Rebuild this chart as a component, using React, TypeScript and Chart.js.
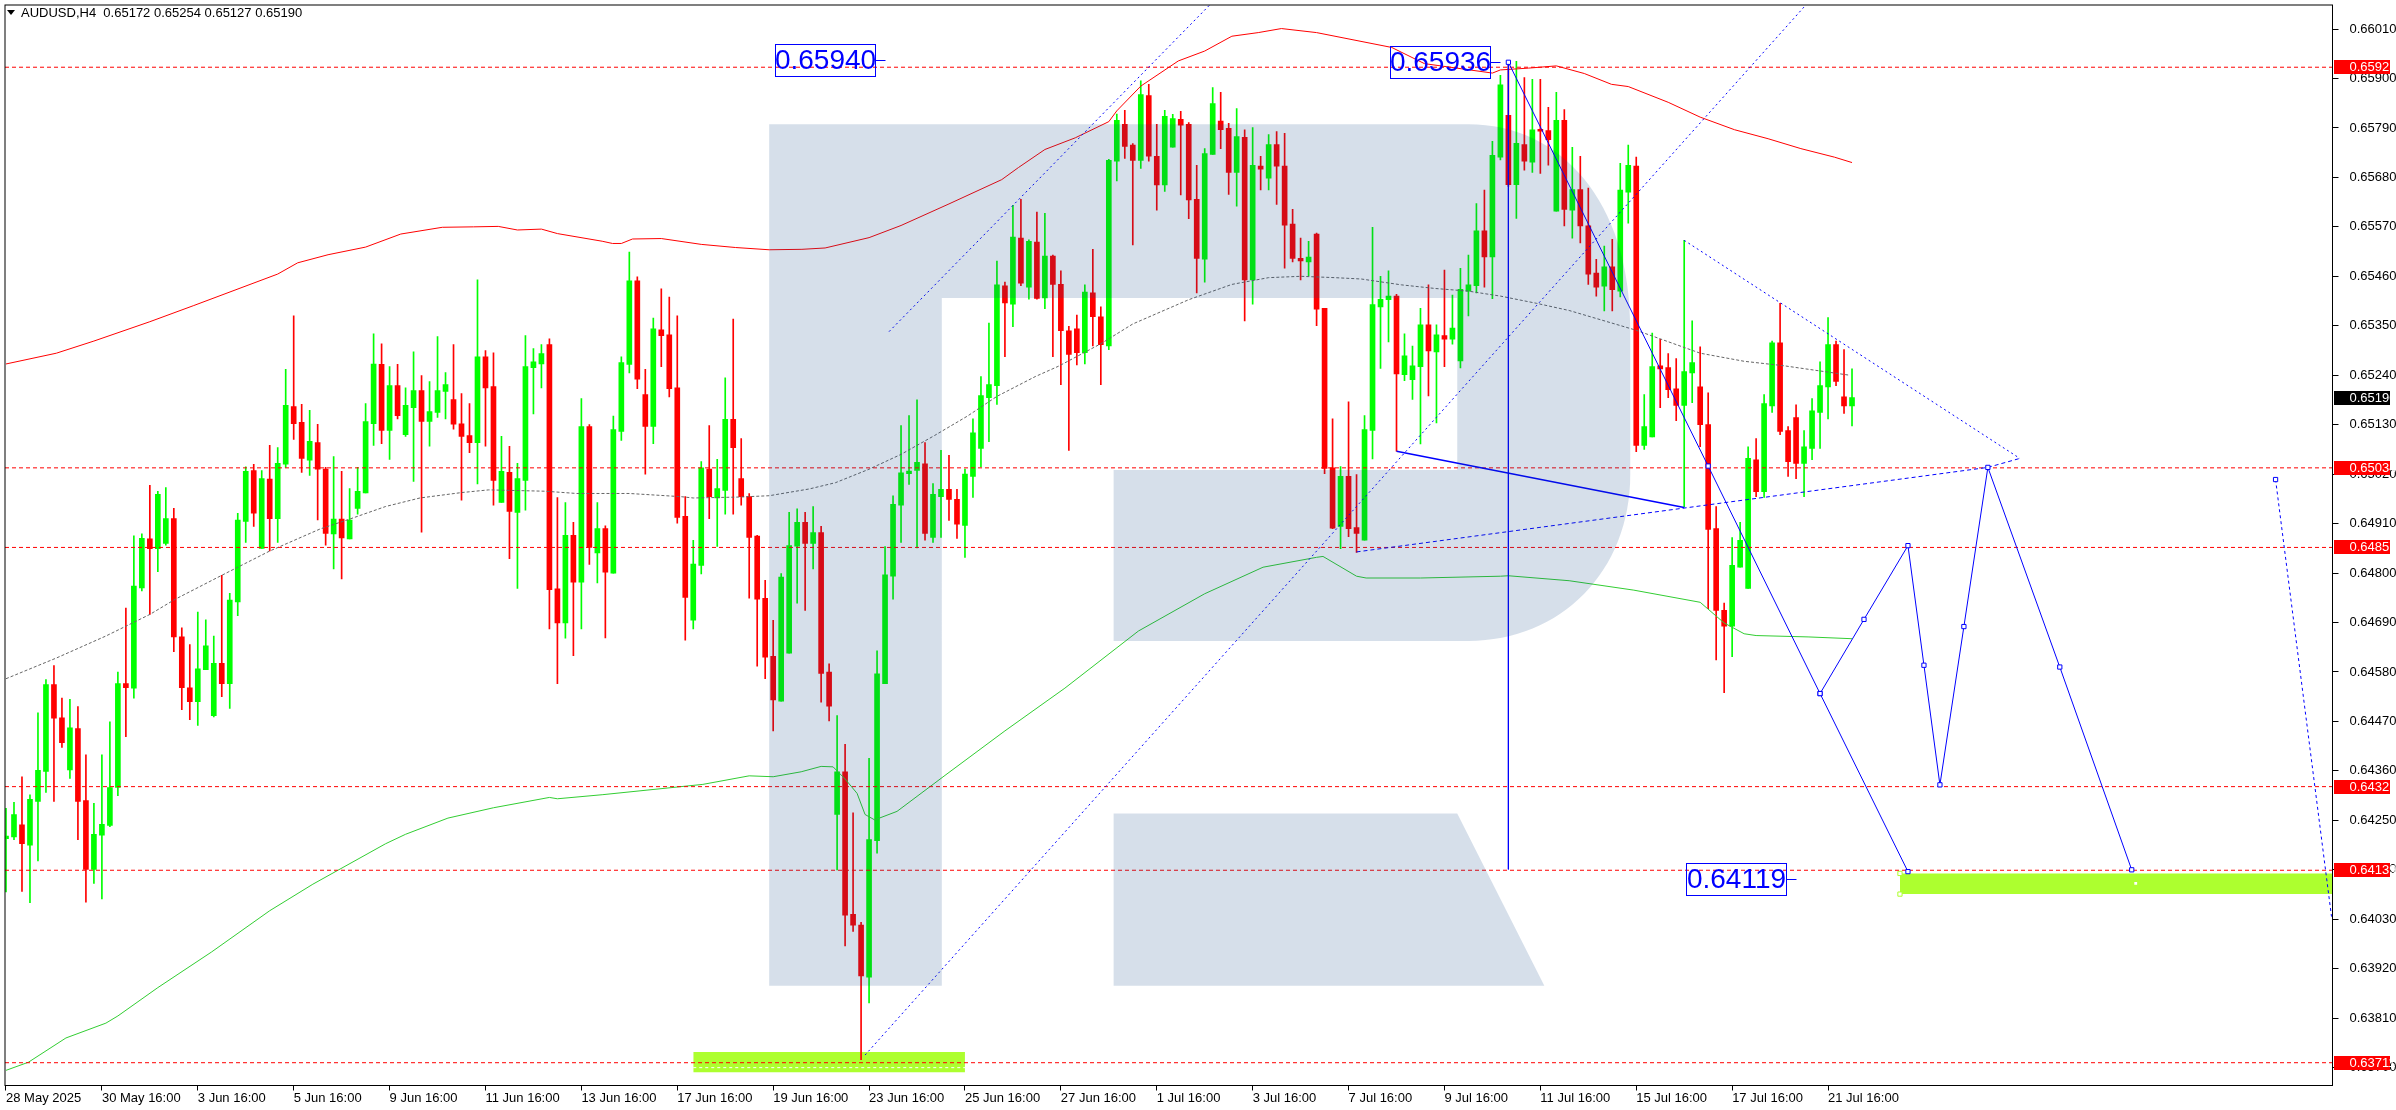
import React, { useEffect, useRef } from "react";
import { Chart, registerables } from "chart.js";

Chart.register(...registerables);

// Prices are held in points (1 point = 0.00001)
const opens = [
  64209,64213,64240,64195,64292,64359,64552,64478,64362,64454,
  64294,64141,64217,64239,64323,64554,64544,64767,64876,64854,
  64866,64921,64658,64545,64514,64585,64483,64599,64554,64736,
  64915,65028,64855,65009,64921,65042,65170,65135,65051,65090,
  65031,64887,64920,64876,64944,64978,65132,65264,65117,65217,
  65108,65168,65206,65137,65157,65204,65186,65132,65106,65090,
  65281,65215,64957,65024,64935,65006,65257,65265,65308,64765,
  64689,64884,64780,65126,64845,64899,64800,65115,65264,65450,
  65197,65126,65341,65330,65212,64926,64695,64817,65031,64967,
  64984,65142,65010,64970,64882,64744,64615,64515,64622,64860,
  64913,64866,64890,64580,64263,64358,64041,64017,63901,64205,
  64554,64793,64951,65021,65028,65043,64879,64970,64986,64964,
  64906,65015,65077,65190,65217,65439,65398,65545,65436,65536,
  65412,65505,65442,65339,65343,65290,65423,65370,65305,65716,
  65798,65752,65718,65862,65727,65663,65747,65809,65798,65631,
  65498,65731,65805,65789,65691,65769,65452,65705,65678,65753,
  65705,65576,65500,65492,65554,65389,65034,64904,65015,64901,
  64873,65117,65392,65408,65416,65241,65230,65259,65352,65292,
  65328,65320,65272,65427,65439,65561,65503,65725,65818,65664,
  65753,65714,65787,65784,65605,65807,65607,65653,65572,65467,
  65438,65481,65427,65647,65705,65084,65103,65261,65257,65210,
  65173,65245,65214,65130,64899,64717,64682,64813,64766,65052,
  64981,65172,65312,65117,65146,65044,65077,65157,65214,65308,65192,65172,
];
const highs = [
  64277,64290,64347,64307,64489,64563,64594,64522,64519,64503,
  64396,64288,64396,64469,64580,64722,64883,64887,64995,64982,
  64990,64944,64678,64641,64713,64696,64660,64795,64755,64933,
  65036,65042,65028,65084,65079,65253,65372,65175,65162,65131,
  65035,65059,65026,64988,65035,65177,65332,65310,65259,65264,
  65212,65292,65239,65226,65326,65246,65308,65199,65177,65452,
  65295,65290,65104,65082,65044,65328,65299,65308,65321,64968,
  64957,64913,65188,65130,64957,64905,65149,65281,65514,65459,
  65253,65367,65432,65414,65372,64970,64873,65048,65128,65053,
  65234,65365,65099,64977,64884,64784,64695,64799,64935,64943,
  64935,64948,64904,64598,64483,64419,64267,64023,64388,64627,
  64859,64972,65128,65150,65185,65090,64999,65073,65062,64986,
  65031,65143,65237,65356,65494,65447,65618,65631,65541,65603,
  65600,65507,65472,65349,65374,65441,65520,65392,65720,65821,
  65829,65755,65895,65887,65798,65829,65820,65827,65802,65707,
  65744,65880,65869,65800,65833,65786,65791,65727,65775,65782,
  65778,65609,65545,65538,65556,65389,65143,65037,65181,65019,
  65150,65569,65460,65472,65420,65332,65305,65389,65441,65352,
  65474,65418,65478,65507,65622,65652,65760,65907,65936,65938,
  65902,65898,65898,65836,65869,65831,65747,65727,65656,65498,
  65527,65542,65711,65752,65725,65197,65334,65320,65288,65277,
  65540,65361,65303,65201,64948,64733,64879,64913,65081,65099,
  65197,65316,65400,65126,65174,65117,65188,65270,65368,65316,65297,65254,
];
const lows = [
  64091,64207,64092,64067,64160,64312,64292,64412,64343,64207,
  64068,64110,64075,64236,64305,64436,64522,64760,64708,64803,
  64862,64625,64496,64474,64461,64585,64480,64525,64499,64705,
  64868,64904,64855,64849,64868,65035,65097,65024,65017,64918,
  64862,64809,64787,64876,64931,64978,65084,65088,65053,65143,
  65104,65004,64891,65082,65146,65143,65120,64962,65068,64998,
  65082,64951,64957,64832,64766,64940,65154,65212,64676,64554,
  64655,64616,64676,64819,64778,64656,64800,65095,65245,65210,
  65020,65088,65259,65192,64911,64651,64676,64798,64921,64859,
  64931,64931,64951,64744,64593,64565,64449,64515,64622,64733,
  64717,64809,64513,64471,64140,63971,64003,63718,63844,64177,
  64554,64742,64868,64997,64856,64873,64868,64879,64917,64877,
  64835,64968,65036,65092,65175,65281,65348,65439,65409,65409,
  65388,65281,65219,65073,65263,65265,65305,65219,65297,65672,
  65722,65530,65700,65716,65607,65649,65747,65641,65588,65423,
  65447,65731,65744,65642,65616,65361,65398,65652,65652,65620,
  65478,65492,65452,65461,65350,65021,64899,64854,64881,64846,
  64873,65054,65255,65314,65071,65228,65186,65087,65194,65134,
  65259,65309,65256,65372,65423,65436,65410,65719,65660,65589,
  65696,65691,65689,65707,65605,65572,65545,65534,65442,65416,
  65383,65383,65414,65578,65070,65075,65103,65168,65190,65139,
  64947,65179,65081,64721,64607,64534,64614,64813,64766,64970,
  64968,65157,65108,65015,65010,64970,65052,65077,65143,65217,65155,65127,
];
const closes = [
  64215,64263,64198,64297,64361,64552,64477,64423,64456,64292,
  64141,64219,64241,64323,64554,64545,64771,64877,64854,64975,
  64921,64658,64545,64514,64587,64638,64599,64554,64740,64918,
  65026,64933,65010,64921,65044,65173,65132,65055,65093,65031,
  64888,64920,64878,64918,64982,65137,65265,65117,65217,65150,
  65173,65206,65137,65159,65206,65219,65131,65104,65090,65281,
  65212,65006,65026,64937,65010,65259,65270,65288,64763,64689,
  64884,64780,65126,64857,64899,64802,65119,65268,65450,65231,
  65126,65343,65328,65210,64924,64746,64820,65034,64970,64988,
  65142,65079,64970,64879,64742,64613,64518,64791,64861,64913,
  64866,64890,64577,64504,64358,64039,64017,63904,64207,64576,
  64796,64953,65023,65027,65046,64888,64975,64986,64964,64909,
  65020,65112,65195,65219,65441,65401,65547,65445,65538,65411,
  65505,65442,65339,65286,65290,65425,65370,65308,65718,65807,
  65749,65718,65864,65727,65663,65816,65811,65796,65630,65500,
  65733,65844,65786,65691,65771,65452,65707,65698,65753,65705,
  65574,65500,65494,65503,65387,65033,64900,65015,64899,64888,
  65119,65397,65409,65416,65243,65283,65261,65352,65294,65330,
  65320,65345,65431,65441,65561,65503,65729,65886,65664,65756,
  65716,65786,65783,65764,65807,65609,65653,65572,65465,65436,
  65481,65430,65652,65707,65084,65126,65259,65254,65208,65173,
  65248,65268,65130,64897,64717,64682,64817,64873,65055,64981,
  65177,65312,65115,65048,65044,65081,65161,65217,65308,65226,65172,65190,
];

const dateLabels = ["28 May 2025","30 May 16:00","3 Jun 16:00","5 Jun 16:00","9 Jun 16:00","11 Jun 16:00","13 Jun 16:00","17 Jun 16:00","19 Jun 16:00","23 Jun 16:00","25 Jun 16:00","27 Jun 16:00","1 Jul 16:00","3 Jul 16:00","7 Jul 16:00","9 Jul 16:00","11 Jul 16:00","15 Jul 16:00","17 Jul 16:00","21 Jul 16:00"];
const dateBars = [0,12,24,36,48,60,72,84,96,108,120,132,144,156,168,180,192,204,216,228];
const priceTicks = [0.6601,0.659,0.6579,0.6568,0.6557,0.6546,0.6535,0.6524,0.6513,0.6502,0.6491,0.648,0.6469,0.6458,0.6447,0.6436,0.6425,0.6414,0.6403,0.6392,0.6381,0.637];

const levelPrices = [65925,65034,64857,64325,64139,63711];
const levelLabels = ["0.65925","0.65034","0.64857","0.64325","0.64139","0.63711"];

const upperBars = [0,6.3,11,18,23.5,34,36.5,40.3,45,49.4,54.6,58.5,61.6,64,67,69,74.6,75.9,77,78.4,82,87,91.3,95.5,99.6,102.5,108,112,118,124.6,126.7,130,133.8,138,139,142,146.7,150,153.4,156.7,159.6,164,173.4,177.5,186,187,190.5,194,197.5,200.9,203,208,212,216.3,220.5,224.6,228.8,231];
const upperVals = [65265,65289,65316,65359,65395,65465,65490,65508,65525,65554,65569,65570,65571,65563,65565,65555,65538,65533,65533,65543,65544,65531,65524,65519,65520,65523,65546,65573,65621,65675,65702,65742,65768,65804,65828,65883,65939,65961,65994,66002,66011,66002,65969,65933,65912,65919,65923,65928,65911,65887,65882,65847,65814,65786,65766,65744,65725,65713];

const middleBars = [0,6.3,12.5,18,21.2,27,33,39.3,43,47.5,51.8,57,60.4,67.5,71.4,75,78,84.4,86,91.7,95.5,100.5,103.8,108,112,116.2,120.3,124,128.8,131.7,137,141,148,153.4,158,162,166.3,169.6,174.6,178.8,183,187,191.5,195.6,204,212,217.5,222.5,230.7];
const middleVals = [64565,64611,64660,64708,64742,64795,64849,64898,64920,64948,64967,64979,64985,64982,64977,64977,64977,64970,64967,64969,64972,64987,65001,65031,65064,65106,65149,65193,65237,65260,65310,65354,65408,65442,65457,65460,65457,65454,65441,65433,65427,65416,65400,65384,65340,65289,65271,65261,65240];

const lowerBars = [0,2.8,7.5,12.5,14,19,25.7,33,38.4,47.5,50,55.3,61,68,69,74.6,87.2,93,96,99.5,102,103.5,105,106.5,107.5,108.7,111.5,117.5,125,132.5,141.7,150,157.3,164,164.8,169,170.2,177,187,188,195.6,203.7,212,215,217.5,219,225.5,231];
const lowerVals = [63694,63712,63766,63799,63815,63878,63957,64049,64108,64198,64219,64255,64278,64301,64298,64307,64330,64349,64347,64358,64370,64369,64342,64310,64263,64251,64270,64350,64449,64544,64671,64754,64813,64835,64837,64793,64789,64789,64793,64794,64783,64762,64735,64689,64665,64661,64658,64654];

const channelA = { bars: [110.5, 150.6], vals: [65337, 66063] };
const channelB = { bars: [107.5, 225.2], vals: [63728, 66063] };
const dropBars = [188, 213, 227, 238];
const dropVals = [65936, 65038, 64532, 64136];
const stemBars = [188, 188];
const stemVals = [65936, 64141];
const forecastBars = [227, 232.5, 238, 240, 242, 245, 248, 257, 266];
const forecastVals = [64532, 64697, 64861, 64595, 64329, 64681, 65035, 64591, 64140];
const slantBars = [174, 210];
const slantVals = [65071, 64946];
const triLowBars = [169, 248, 252];
const triLowVals = [64847, 65035, 65055];
const triTopBars = [210, 252];
const triTopVals = [65540, 65055];
const farBars = [284, 291];
const farVals = [65008, 64036];

const zoneOne = { bars: [86, 120], top: 63735, bottom: 63690, mid: 63700 };
const zoneTwo = { bars: [237, 292], top: 64132, bottom: 64086 };

const callouts = [
  { text: "0.65940", price: 65940, bar: 110 },
  { text: "0.65936", price: 65936, bar: 187 },
  { text: "0.64119", price: 64119, bar: 224 },
];

const headerText = "AUDUSD,H4  0.65172 0.65254 0.65127 0.65190";
const lastPrice = 65190;

const pt = (bars: number[], vals: number[]) => bars.map((x, k) => ({ x, y: vals[k] / 1e5 }));

const BULL = "#00ff00";
const BEAR = "#ff0000";
const BLUE = "#0000ff";
const LIME = "#adff2f";
const FONT = "'Liberation Sans', sans-serif";

const line = (data: any[], extra: any) => ({
  type: "line",
  data,
  borderWidth: 1,
  pointRadius: 0,
  tension: 0,
  ...extra,
});

const overlay = {
  id: "overlay",
  afterDatasetsDraw(chart: any) {
    const { ctx, chartArea: a, scales } = chart;
    const X = (b: number) => scales.x.getPixelForValue(b);
    const Y = (p: number) => scales.y.getPixelForValue(p / 1e5);
    ctx.save();
    ctx.beginPath();
    ctx.rect(a.left, a.top, a.right - a.left, a.bottom - a.top);
    ctx.clip();
    ctx.fillStyle = "rgba(14,67,131,0.17)";
    ctx.beginPath();
    ctx.moveTo(X(95.5), Y(65798));
    ctx.lineTo(X(183), Y(65798));
    ctx.bezierCurveTo(X(194.6), Y(65798), X(203.25), Y(65625), X(203.25), Y(65346));
    ctx.lineTo(X(203.25), Y(65019));
    ctx.bezierCurveTo(X(203.25), Y(64804), X(194.6), Y(64649), X(183), Y(64649));
    ctx.lineTo(X(138.6), Y(64649));
    ctx.lineTo(X(138.6), Y(65029));
    ctx.lineTo(X(181.6), Y(65029));
    ctx.lineTo(X(181.6), Y(65412));
    ctx.lineTo(X(117.1), Y(65412));
    ctx.lineTo(X(117.1), Y(63882));
    ctx.lineTo(X(95.5), Y(63882));
    ctx.closePath();
    ctx.moveTo(X(138.6), Y(64265));
    ctx.lineTo(X(181.6), Y(64265));
    ctx.lineTo(X(192.5), Y(63882));
    ctx.lineTo(X(138.6), Y(63882));
    ctx.closePath();
    ctx.fill();

    // Price callouts
    ctx.strokeStyle = BLUE;
    ctx.fillStyle = BLUE;
    ctx.lineWidth = 1;
    ctx.font = `28px ${FONT}`;
    ctx.textAlign = "center";
    ctx.textBaseline = "middle";
    callouts.forEach((c) => {
      const px = Math.round(X(c.bar)) + 0.5;
      const py = Math.round(Y(c.price)) + 0.5;
      ctx.beginPath();
      ctx.moveTo(px - 10, py);
      ctx.lineTo(px, py);
      ctx.stroke();
      ctx.strokeRect(px - 110, py - 16, 100, 32);
      ctx.fillText(c.text, px - 60, py + 1);
    });
    ctx.restore();
  },
  afterDraw(chart: any) {
    const { ctx, chartArea: a, scales } = chart;
    const Y = (p: number) => Math.round(scales.y.getPixelForValue(p / 1e5));
    ctx.save();
    // Frame
    ctx.strokeStyle = "#000";
    ctx.lineWidth = 1;
    ctx.strokeRect(a.left, a.top, a.right - a.left, a.bottom - a.top);
    // Price tags
    ctx.font = `13px ${FONT}`;
    ctx.textAlign = "left";
    ctx.textBaseline = "middle";
    const tag = (bg: string, text: string, price: number) => {
      const py = Y(price);
      ctx.fillStyle = bg;
      ctx.fillRect(a.right + 1.5, py - 7, 56, 14);
      ctx.fillStyle = "#fff";
      ctx.fillText(text, a.right + 17, py + 0.5);
    };
    levelPrices.forEach((p, k) => tag(BEAR, levelLabels[k], p));
    tag("#000", (lastPrice / 1e5).toFixed(5), lastPrice);
    // Header
    ctx.fillStyle = "#000";
    ctx.beginPath();
    ctx.moveTo(7, 10);
    ctx.lineTo(15, 10);
    ctx.lineTo(11, 15);
    ctx.closePath();
    ctx.fill();
    ctx.fillText(headerText, 21, 13);
    ctx.restore();
  },
};

export default function App() {
  const ref = useRef<HTMLCanvasElement | null>(null);
  useEffect(() => {
    const canvas = ref.current;
    if (!canvas) return;
    const wicks = highs.map((h, i) => ({ x: i, y: [lows[i] / 1e5, h / 1e5] }));
    const bodies = opens.map((o, i) => ({
      x: i,
      y: [Math.min(o, closes[i]) / 1e5, Math.max(o, closes[i]) / 1e5],
    }));
    const colors = opens.map((o, i) => (closes[i] >= o ? BULL : BEAR));
    const zone = (z: any, order: number) =>
      line(pt(z.bars, [z.top, z.top]), {
        borderWidth: 0,
        borderColor: LIME,
        backgroundColor: LIME,
        fill: { value: z.bottom / 1e5 },
        order,
      });
    const handles = { pointStyle: "rect", pointRadius: 3, pointBackgroundColor: "#fff", pointBorderColor: BLUE, pointBorderWidth: 1 };
    const levels = levelPrices.map((p) =>
      line(pt([-1, 293], [p, p]), { borderColor: BEAR, borderDash: [4, 3], order: 5 })
    );
    const chart = new Chart(canvas, {
      type: "bar",
      data: {
        datasets: [
          zone(zoneOne, 20),
          line(pt(zoneOne.bars, [zoneOne.mid, zoneOne.mid]), { borderColor: "#fff", borderDash: [3, 3], order: 19 }),
          zone(zoneTwo, 20),
          line(pt([237, 237], [zoneTwo.top, zoneTwo.bottom]), {
            borderWidth: 0,
            pointStyle: "rect",
            pointRadius: 3,
            pointBackgroundColor: "#fff",
            pointBorderColor: LIME,
            pointBorderWidth: 1,
            showLine: false,
            order: 19,
          }),
          line(pt([266.5], [64110]), { pointStyle: "rect", pointRadius: 2, pointBackgroundColor: "#fff", pointBorderWidth: 0, showLine: false, order: 19 }),
          {
            data: wicks,
            backgroundColor: colors,
            barThickness: 1,
            grouped: false,
            borderWidth: 0,
            order: 12,
          },
          {
            data: bodies,
            backgroundColor: colors,
            barThickness: 5,
            grouped: false,
            borderWidth: 0,
            order: 11,
          },
          line(pt(upperBars, upperVals), { borderColor: BEAR, order: 8 }),
          line(pt(middleBars, middleVals), { borderColor: "#666666", borderDash: [3, 2], order: 8 }),
          line(pt(lowerBars, lowerVals), { borderColor: "#32cd32", order: 8 }),
          ...levels,
          line(pt(channelA.bars, channelA.vals), { borderColor: BLUE, borderDash: [2, 3], order: 3 }),
          line(pt(channelB.bars, channelB.vals), { borderColor: BLUE, borderDash: [2, 3], order: 3 }),
          line(pt(stemBars, stemVals), { borderColor: BLUE, order: 3 }),
          line(pt(slantBars, slantVals), { borderColor: BLUE, borderWidth: 1.5, order: 3 }),
          line(pt(triLowBars, triLowVals), { borderColor: BLUE, borderDash: [4, 3], order: 3 }),
          line(pt(triTopBars, triTopVals), { borderColor: BLUE, borderDash: [2, 3], order: 3 }),
          line(pt(dropBars, dropVals), { borderColor: BLUE, order: 2, ...handles }),
          line(pt(forecastBars, forecastVals), { borderColor: BLUE, order: 2, ...handles }),
          line(pt(farBars, farVals), { borderColor: BLUE, borderDash: [3, 3], order: 2, ...handles, pointRadius: [3, 0] }),
        ] as any,
      },
      options: {
        responsive: false,
        animation: false,
        devicePixelRatio: 1,
        layout: { padding: { left: 2.5, top: 2.5, right: 0, bottom: 0 } },
        plugins: { legend: { display: false }, tooltip: { enabled: false } },
        events: [],
        scales: {
          x: {
            type: "linear",
            min: -0.125,
            max: 291.125,
            offset: false,
            grid: { display: true, offset: false, drawOnChartArea: false, drawTicks: true, tickLength: 5, color: "#000" },
            border: { display: false },
            ticks: {
              autoSkip: false,
              maxRotation: 0,
              minRotation: 0,
              align: "start",
              padding: 0,
              color: "#000",
              font: { family: "Liberation Sans", size: 13 },
              callback: (_v: any, i: number) => dateLabels[i],
            },
            afterBuildTicks: (s: any) => {
              s.ticks = dateBars.map((value) => ({ value }));
            },
            afterFit: (s: any) => {
              s.height = 24.5;
              s.paddingLeft = s.paddingRight = s.paddingTop = s.paddingBottom = 0;
            },
          },
          y: {
            type: "linear",
            position: "right",
            min: 0.636603,
            max: 0.660634,
            grid: { display: true, drawOnChartArea: false, drawTicks: true, tickLength: 6, color: "#000" },
            border: { display: false },
            ticks: {
              autoSkip: false,
              padding: 11,
              color: "#000",
              font: { family: "Liberation Sans", size: 13 },
              callback: (v: any) => Number(v).toFixed(5),
            },
            afterBuildTicks: (s: any) => {
              s.ticks = priceTicks.map((value) => ({ value }));
            },
            afterFit: (s: any) => {
              s.width = 63.5;
              s.paddingLeft = s.paddingRight = s.paddingTop = s.paddingBottom = 0;
            },
          },
        },
      } as any,
      plugins: [overlay],
    } as any);
    return () => chart.destroy();
  }, []);
  return (
    <canvas
      ref={ref}
      width={2396}
      height={1110}
      style={{ position: "fixed", left: 0, top: 0, width: 2396, height: 1110, display: "block", background: "#fff" }}
    />
  );
}
